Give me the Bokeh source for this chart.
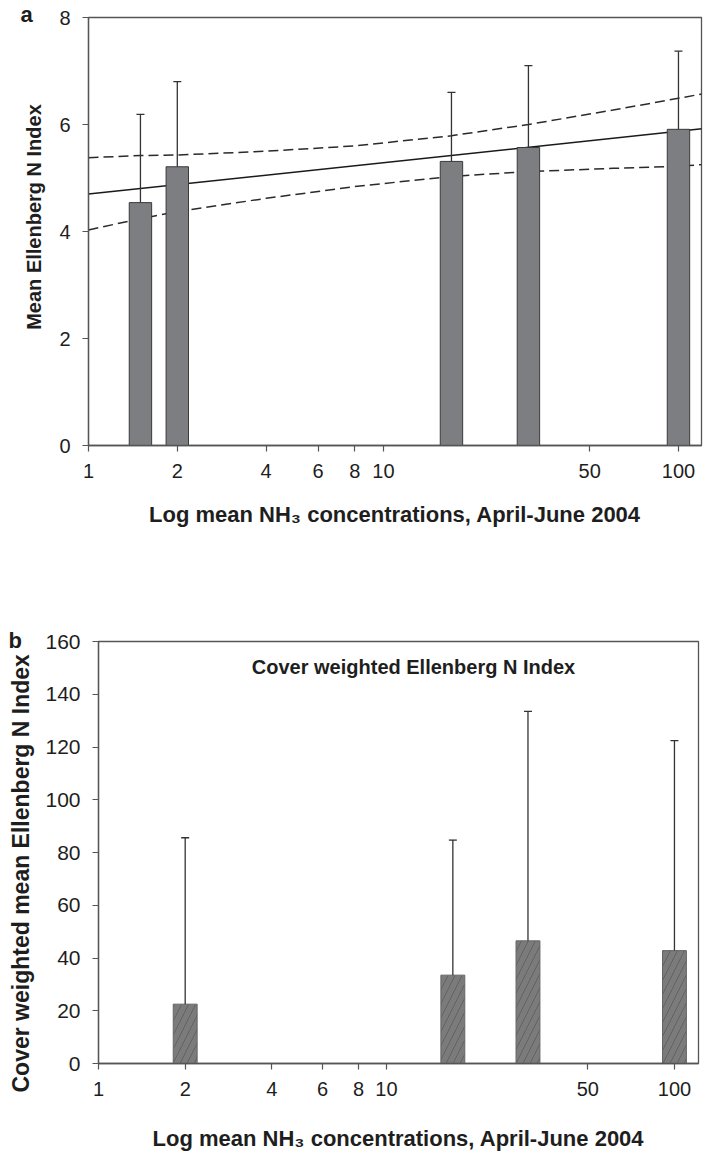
import math
from bokeh.plotting import figure
from bokeh.layouts import column, row
from bokeh.models import (Range1d, FixedTicker, ColumnDataSource, Whisker,
                          TeeHead, Label, Title, BasicTickFormatter)
from bokeh.embed import file_html
from bokeh.resources import INLINE

# Mean NH3 concentration at each site, April-June 2004
nh3_sites = [1.5, 2.0, 17.0, 31.0, 100.0]

# (a) mean Ellenberg N index per site, and the top of its error bar
mean_n = [4.54, 5.21, 5.31, 5.57, 5.91]
mean_n_upper = [6.19, 6.80, 6.60, 7.10, 7.37]

# (a) fitted regression line with its confidence limits
fit_x = [1.0, 120.0]
fit_y = [4.70, 5.92]
band_x = [1.0, 1.5, 2.0, 4.0, 8.0, 17.0, 31.0, 60.0, 100.0, 120.0]
band_upper = [5.38, 5.42, 5.43, 5.50, 5.60, 5.79, 6.00, 6.27, 6.49, 6.57]
band_lower = [4.03, 4.24, 4.37, 4.62, 4.84, 5.03, 5.12, 5.18, 5.22, 5.25]

# (b) cover weighted mean Ellenberg N index (no cover at the lowest site)
nh3_sites_b = [2.0, 17.0, 31.0, 100.0]
cover_n = [22.5, 33.5, 46.5, 42.8]
cover_n_upper = [85.6, 84.7, 133.5, 122.4]

# axis ticks
x_ticks = [1, 2, 4, 6, 8, 10, 50, 100]
x_tick_labels = ["1", "2", "4", "6", "8", "10", "50", "100"]
ya_ticks = [0, 2, 4, 6, 8]
yb_ticks = [0, 20, 40, 60, 80, 100, 120, 140, 160]

FONT = "Liberation Sans"
AXIS_GREY = "#555555"
TEXT = "#1e1e1e"
X_TITLE = "Log mean NH\u2083 concentrations, April-June 2004"
SIDE_W = 48  # strip left of chart (a) holding its letter and y title


def style(p, yticks, xtitle_standoff, ytick_size="20px"):
    p.grid.visible = False
    p.outline_line_color = AXIS_GREY
    p.outline_line_width = 1.3
    p.background_fill_color = "white"
    p.border_fill_color = "white"

    p.xaxis.ticker = FixedTicker(ticks=x_ticks)
    p.xaxis.formatter = BasicTickFormatter()
    p.xaxis.major_label_overrides = dict(zip(x_ticks, x_tick_labels))
    p.yaxis.ticker = FixedTicker(ticks=yticks)

    for ax in (p.xaxis[0], p.yaxis[0]):
        ax.axis_line_color = AXIS_GREY
        ax.axis_line_width = 1.3
        ax.major_tick_line_color = AXIS_GREY
        ax.major_tick_line_width = 1.2
        ax.major_tick_in = 0
        ax.major_tick_out = 6
        ax.minor_tick_line_color = None
        ax.major_label_text_font = FONT
        ax.major_label_text_font_size = "20px"
        ax.major_label_text_color = TEXT
        ax.major_label_standoff = 12
        ax.axis_label_text_font = FONT
        ax.axis_label_text_font_style = "bold"
        ax.axis_label_text_color = TEXT
    p.yaxis.major_label_text_font_size = ytick_size

    p.xaxis.axis_label = X_TITLE
    p.xaxis.axis_label_text_font_size = "22px"
    p.xaxis.axis_label_standoff = xtitle_standoff


def panel_letter(text, offset, standoff):
    return Title(text=text, align="left", offset=offset, vertical_align="bottom",
                 standoff=standoff, text_font=FONT, text_font_style="bold",
                 text_font_size="22px", text_color=TEXT)


def bar_edges(xs, half_decades):
    f = 10 ** half_decades
    return [x / f for x in xs], [x * f for x in xs]


# ---------------- panel a ----------------
TOP_A, BOTTOM_A = 17, 115
pa = figure(width=703 - SIDE_W, height=560, x_axis_type="log",
            x_range=Range1d(1, 119.7), y_range=Range1d(0, 8),
            output_backend="svg", toolbar_location=None,
            min_border_left=88 - SIDE_W, min_border_right=2,
            min_border_top=TOP_A, min_border_bottom=BOTTOM_A)
style(pa, ya_ticks, 21)

pa.line(fit_x, fit_y, line_color="#1a1a1a", line_width=1.5)
pa.line(band_x, band_upper, line_color="#2a2a2a", line_width=1.5, line_dash="10 5")
pa.line(band_x, band_lower, line_color="#2a2a2a", line_width=1.5, line_dash="10 5")

la, ra = bar_edges(nh3_sites, 0.038)
pa.quad(left=la, right=ra, bottom=0, top=mean_n,
        fill_color="#7d7e82", line_color="#3a3a3a", line_width=1)

src_a = ColumnDataSource(dict(x=nh3_sites, lower=mean_n, upper=mean_n_upper))
pa.add_layout(Whisker(source=src_a, base="x", lower="lower", upper="upper",
                      dimension="height", line_color="#333333", line_width=1.3,
                      upper_head=TeeHead(size=8, line_color="#333333", line_width=1.3),
                      lower_head=None, level="overlay"))

# blank strip: its plotting area spans the same rows as chart (a), and its
# ranges count pixels from the strip's top-left corner
side_a = figure(width=SIDE_W, height=560, x_range=Range1d(0, SIDE_W),
                y_range=Range1d(560 - BOTTOM_A, TOP_A), output_backend="svg",
                toolbar_location=None, min_border_left=0, min_border_right=0,
                min_border_top=TOP_A, min_border_bottom=BOTTOM_A)
side_a.axis.visible = False
side_a.grid.visible = False
side_a.outline_line_color = None
side_a.border_fill_color = "white"
side_a.add_layout(Label(x=33.5, y=216.5, text="Mean Ellenberg N Index",
                        angle=math.pi / 2, text_font=FONT, text_font_style="bold",
                        text_font_size="20px", text_color=TEXT,
                        text_align="center", text_baseline="alphabetic"))
side_a.add_layout(panel_letter("a", 20, -19), "above")

# ---------------- panel b ----------------
pb = figure(width=703, height=596, x_axis_type="log",
            x_range=Range1d(1, 121.2), y_range=Range1d(0, 160),
            output_backend="svg", toolbar_location=None,
            min_border_left=95, min_border_right=5,
            min_border_top=81, min_border_bottom=93)
style(pb, yb_ticks, 27, ytick_size="21px")
pb.add_layout(Title(text="Cover weighted mean Ellenberg N Index", align="left",
                    offset=-29, vertical_align="top", standoff=14,
                    text_font=FONT, text_font_style="bold",
                    text_font_size="23px", text_color=TEXT), "left")
pb.add_layout(panel_letter("b", -90, -23), "above")

lb, rb = bar_edges(nh3_sites_b, 0.0415)
pb.quad(left=lb, right=rb, bottom=0, top=cover_n,
        fill_color="#7b7b7b", line_color="#666666", line_width=1,
        hatch_pattern="/", hatch_color="#3c3c3c", hatch_weight=0.8,
        hatch_scale=14, hatch_alpha=0.5)

src_b = ColumnDataSource(dict(x=nh3_sites_b, lower=cover_n, upper=cover_n_upper))
pb.add_layout(Whisker(source=src_b, base="x", lower="lower", upper="upper",
                      dimension="height", line_color="#333333", line_width=1.3,
                      upper_head=TeeHead(size=8, line_color="#333333", line_width=1.3),
                      lower_head=None, level="overlay"))

pb.add_layout(Label(x=315, y=397, x_units="screen", y_units="screen",
                    text="Cover weighted Ellenberg N Index",
                    text_font=FONT, text_font_style="bold", text_font_size="20px",
                    text_color=TEXT, text_align="center", text_baseline="middle"))

layout = column(row(side_a, pa, spacing=0), pb, spacing=0)
open("out.html", "w").write(file_html(layout, INLINE))
